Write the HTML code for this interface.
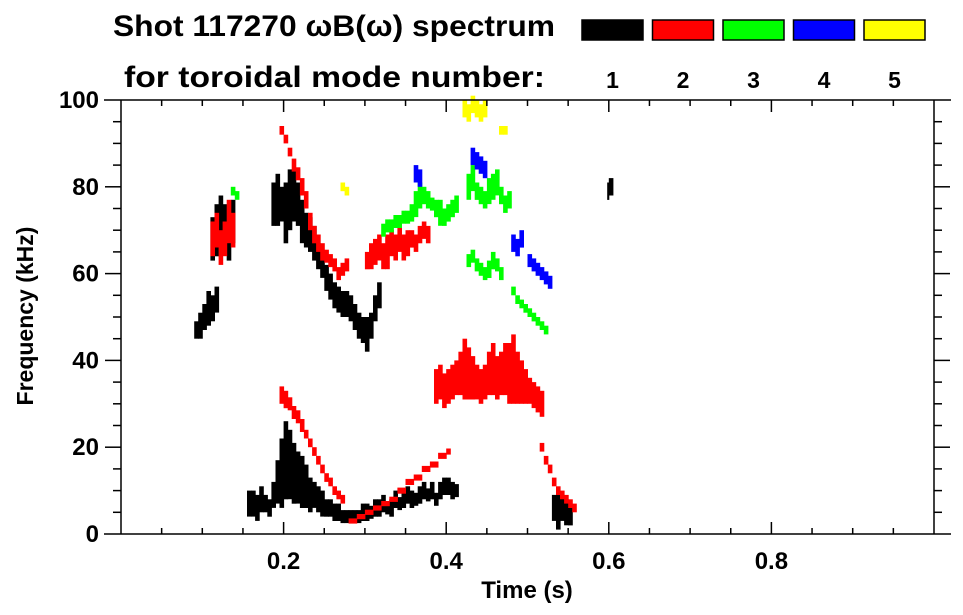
<!DOCTYPE html>
<html><head><meta charset="utf-8">
<style>
html,body{margin:0;padding:0;background:#fff;}
svg{display:block;font-family:"Liberation Sans",Arial,sans-serif;font-weight:bold;}
</style></head>
<body>
<svg id="chart" width="963" height="615" viewBox="0 0 963 615" xmlns="http://www.w3.org/2000/svg">
  <text x="113" y="36" font-size="30" fill="#000" textLength="442" lengthAdjust="spacingAndGlyphs">Shot 117270 ωB(ω) spectrum</text>
  <text x="124" y="87" font-size="30" fill="#000" textLength="421" lengthAdjust="spacingAndGlyphs">for toroidal mode number:</text>
  <g id="legend"></g>
  <g id="marks"></g>
  <g id="axes"></g>
  <text x="527" y="598" font-size="24" text-anchor="middle">Time (s)</text>
  <text transform="translate(33,316) rotate(-90)" font-size="23" text-anchor="middle">Frequency (kHz)</text>
</svg>
<script>
// ---- data ----
const modeNumbers = [1, 2, 3, 4, 5];
const modeColors = ["#000000", "#ff0000", "#00ff00", "#0000ff", "#ffff00"];
const xTickValues = [0.2, 0.4, 0.6, 0.8];
const yTickValues = [0, 20, 40, 60, 80, 100];

// each blob: mode, times (s), centre freqs (kHz), half-widths (kHz)
const blobMode = [1,1,1,1,1,1,1, 2,2,2,2,2,2,2, 3,3,3,3,3, 4,4,4,4, 5,5,5];
const blobTimes = [
  [0.165,0.17,0.175,0.18,0.185,0.19,0.195,0.2,0.205,0.21,0.215,0.22,0.225,0.23,0.235,0.24,0.245,0.25,0.255,0.26,0.265,0.27,0.275,0.28,0.285,0.29,0.295,0.3,0.305,0.31,0.315,0.32,0.325,0.33,0.335,0.34,0.345,0.35,0.355,0.36,0.365,0.37,0.375,0.38,0.385,0.39,0.395,0.4,0.405,0.41],
  [0.185,0.19,0.195,0.2,0.205,0.21,0.215,0.22,0.225,0.23,0.235,0.24,0.245,0.25,0.255,0.26,0.265,0.27,0.275,0.28,0.285,0.29,0.295,0.3,0.305,0.31,0.315],
  [0.09,0.095,0.1,0.105,0.11,0.115],
  [0.11,0.115,0.12,0.125,0.13,0.135,0.14],
  [0.53,0.535,0.54,0.545,0.55],
  [0.598,0.6],
  [0.155,0.16],
  [0.195,0.2,0.205,0.21,0.215,0.22,0.225,0.23,0.235,0.24,0.245,0.25,0.255,0.26,0.265,0.27],
  [0.195,0.2,0.205,0.21,0.215,0.22,0.225,0.23,0.235,0.24,0.245,0.25,0.255,0.26,0.265,0.27,0.275],
  [0.3,0.305,0.31,0.315,0.32,0.325,0.33,0.335,0.34,0.345,0.35,0.355,0.36,0.365,0.37,0.375],
  [0.385,0.39,0.395,0.4,0.405,0.41,0.415,0.42,0.425,0.43,0.435,0.44,0.445,0.45,0.455,0.46,0.465,0.47,0.475,0.48,0.485,0.49,0.495,0.5,0.505,0.51,0.515],
  [0.28,0.29,0.3,0.31,0.32,0.33,0.34,0.35,0.36,0.37,0.38,0.39,0.4],
  [0.515,0.52,0.525,0.53,0.535,0.54,0.545,0.55,0.555],
  [0.11,0.115,0.12,0.125,0.13,0.135],
  [0.32,0.325,0.33,0.335,0.34,0.345,0.35,0.355,0.36,0.365,0.37,0.375,0.38,0.385,0.39,0.395,0.4,0.405,0.41],
  [0.425,0.43,0.435,0.44,0.445,0.45,0.455,0.46,0.465,0.47,0.475],
  [0.425,0.43,0.435,0.44,0.445,0.45,0.455,0.46,0.465],
  [0.48,0.485,0.49,0.495,0.5,0.505,0.51,0.515,0.52],
  [0.135,0.14],
  [0.36,0.365],
  [0.43,0.435,0.44,0.445],
  [0.48,0.485,0.49],
  [0.5,0.505,0.51,0.515,0.52,0.525],
  [0.42,0.425,0.43,0.435,0.44,0.445],
  [0.465,0.47],
  [0.27,0.275]
];
const blobFreqs = [
  [6,8,7,6,9,12,14,17,16,14,13,12,11,9,9,8,7,6,6,5,5,4,4,4,4,4,5,5,5,6,6,7,6,6,8,7,8,9,8,8,9,10,9,10,8,10,11,11,10,10],
  [76,77,76,74,77,78,76,72,70,69,67,64,62,59,57,55,54,53,53,52,50,48,47,46,48,52,55],
  [47,48,50,52,52,54],
  [68,70,73,71,69,72,70],
  [6,5,6,5,4],
  [79,80],
  [7,7],
  [32,31,30,28,27,25,23,21,19,17,15,13,12,10,9,8],
  [93,91,88,85,83,80,77,72,69,67,65,64,63,62,60,61,62],
  [63,64,65,66,64,65,67,66,68,66,67,68,67,69,70,69],
  [34,35,33,34,35,36,37,38,37,36,35,34,35,37,38,36,37,38,37,38,36,35,34,33,32,31,30],
  [3,4,5,6,7,8,10,12,13,15,16,18,19],
  [20,17,15,12,10,9,8,7,6],
  [68,70,66,68,72,70],
  [70,71,71,72,72,73,73,74,76,78,78,77,76,75,74,73,74,75,76],
  [80,82,79,78,77,79,80,81,78,76,77],
  [63,64,62,61,60,61,63,62,60],
  [56,54,53,52,51,50,49,48,47],
  [79,78],
  [83,82],
  [87,86,85,84],
  [67,66,68],
  [63,62,61,60,59,58],
  [98,97,99,98,97,98],
  [93,93],
  [80,79]
];
const blobHalfWidths = [
  [3,3,2,2,3,5,8,9,8,7,6,6,5,4,3,3,3,2,2,2,2,1.5,1.5,1.5,1.5,1.5,2,2,1.5,2,2,2,1.5,2,2,1.5,2,2,2,1.5,2,2,1.5,2,1.5,2,2,2,2,1.5],
  [5,6,4,7,7,6,5,5,4,4,4,3,3,3,3,3,3,3,3,3,3,3,3,4,3,3,3],
  [2,3,3,4,3,3],
  [5,6,5,5,6,5],
  [3,4,3,3,2],
  [2,2],
  [3,3],
  [2,2,1.5,1.5,1.5,1.5,1,1,1,1,1,1,1,1,1,1],
  [1,1,1,1.5,1.5,2,2,2,2,2,2,1.5,1.5,1.5,1.5,1.5,1.5],
  [2,3,3,3,3,4,3,3,3,3,3,2,2,2,2,2],
  [4,4,4,4,4,4,5,7,6,5,4,4,4,5,6,5,5,6,7,8,6,5,4,3,3,3,3],
  [0.6,0.6,0.6,0.6,0.6,0.6,0.7,0.7,0.7,0.7,0.7,0.7,0.7],
  [1,1,1,1,1,1,1,1,1],
  [4,4,4,4,5,4],
  [1.5,1.5,1.5,1.5,1.5,1.5,1.5,2,3,3,2,2,1.5,2,3,2,2,2,2],
  [3,3,2,2,2,3,3,3,2,2,2],
  [1.5,1.5,1.5,1.5,1.5,2,2,1.5,1.5],
  [1,1,1,1,1,1,1,1,1],
  [1,1],
  [2,2],
  [2,2,2,2],
  [2,2,2],
  [1.5,1.5,1.5,1.5,1.5,1.5],
  [2,2,2,2,2,2],
  [1,1],
  [1,1]
];

// ---- geometry ----
const X0 = 121, X1 = 934, Y0 = 534, Y1 = 100;
const xScale = t => X0 + (X1 - X0) * t;
const yScale = f => Y0 - (Y0 - Y1) * f / 100;
const NS = "http://www.w3.org/2000/svg";
function mk(tag, attrs, parent) {
  const e = document.createElementNS(NS, tag);
  for (const k in attrs) e.setAttribute(k, attrs[k]);
  parent.appendChild(e);
  return e;
}

// legend
const legend = document.getElementById("legend");
modeNumbers.forEach((m, i) => {
  const x = 582 + i * 70.5;
  const r = mk("rect", {x: x, y: 20, width: 61, height: 20, fill: modeColors[i], stroke: "#000", "stroke-width": 1.5}, legend);
  
  
  const t = mk("text", {x: x + 30.5, y: 88, "font-size": 23, "text-anchor": "middle"}, legend);
  t.textContent = m;
  
  
});

// marks
const marks = document.getElementById("marks");
blobTimes.forEach((ts, b) => {
  const color = modeColors[blobMode[b] - 1];
  const g = mk("g", {fill: color}, marks);
  
  
  ts.forEach((t, i) => {
    const f = blobFreqs[b][i], w = blobHalfWidths[b][i];
    const next = i < ts.length - 1 ? ts[i + 1] : t + 0.005;
    const x = xScale(t), x2 = xScale(next);
    const yTop = yScale(f + w), yBot = yScale(f - w);
    const r = mk("rect", {x: x.toFixed(1), y: yTop.toFixed(1), width: Math.max(1.5, x2 - x + 0.5).toFixed(1), height: Math.max(1.5, yBot - yTop).toFixed(1)}, g);
    
    
  });
});

// axes
const axes = document.getElementById("axes");
const ax = {stroke: "#000", "stroke-width": 1.5, fill: "none"};
mk("line", Object.assign({x1: 104, y1: Y0, x2: 951, y2: Y0}, ax), axes);
mk("line", Object.assign({x1: 104, y1: Y1, x2: 951, y2: Y1}, ax), axes);
mk("line", Object.assign({x1: X0, y1: Y1, x2: X0, y2: Y0}, ax), axes);
mk("line", Object.assign({x1: X1, y1: Y1, x2: X1, y2: Y0}, ax), axes);
for (let k = 1; k < 20; k++) {
  const t = k * 0.05, x = xScale(t), major = k % 4 === 0;
  const L = major ? 12 : 6;
  mk("line", Object.assign({x1: x, y1: Y0, x2: x, y2: Y0 - L}, ax), axes);
  mk("line", Object.assign({x1: x, y1: Y1, x2: x, y2: Y1 + L}, ax), axes);
}
for (let k = 1; k < 20; k++) {
  const f = k * 5, y = yScale(f), major = k % 4 === 0;
  const L = major ? 16 : 8;
  mk("line", Object.assign({x1: X0 - L, y1: y, x2: X0, y2: y}, ax), axes);
  mk("line", Object.assign({x1: X1, y1: y, x2: X1 + L, y2: y}, ax), axes);
}
xTickValues.forEach(v => {
  const t = mk("text", {x: xScale(v), y: 569, "font-size": 24, "text-anchor": "middle"}, axes);
  t.textContent = v.toFixed(1);
  
  
});
yTickValues.forEach(v => {
  const t = mk("text", {x: 99, y: yScale(v) + 8, "font-size": 24, "text-anchor": "end"}, axes);
  t.textContent = v;
  
  
});
</script>
</body></html>
